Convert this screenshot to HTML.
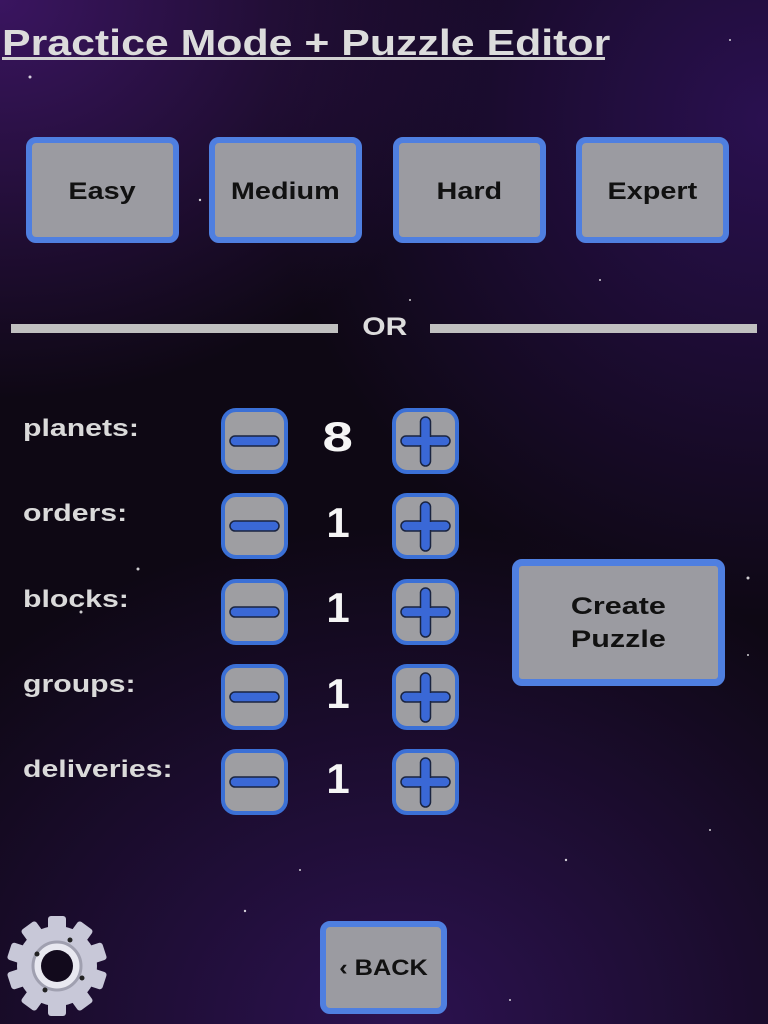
<!DOCTYPE html>
<html><head><meta charset="utf-8"><style>
*{margin:0;padding:0;box-sizing:border-box}
body{width:768px;height:1024px;overflow:hidden;position:relative;font-family:"Liberation Sans",sans-serif;
background:radial-gradient(ellipse 500px 400px at 0px 0px,#3a1560 0%,rgba(30,10,50,0) 100%),radial-gradient(ellipse 500px 500px at 768px 120px,#2a1050 0%,rgba(30,10,50,0) 100%),radial-gradient(ellipse 600px 500px at 400px 1024px,#2c1250 0%,rgba(30,10,50,0) 100%),#0e0814;}
.a{position:absolute}
.s{display:inline-block;transform:scaleX(1.25)}
.title{left:2px;top:22px;font-size:36px;font-weight:bold;color:#dcdcdc;white-space:nowrap;transform-origin:0 0;transform:scaleX(1.19)}
.ul{left:2px;top:57px;width:603px;height:3px;background:#d0d0d0}
.btn{position:absolute;background:#9b9ba1;border:6px solid #4f7fe0;border-radius:10px;display:flex;align-items:center;justify-content:center;font-weight:bold;color:#111;text-align:center}
.d{top:137px;width:153px;height:106px;font-size:24px;padding-top:3px}
.bar{top:324px;height:9px;background:#c0c0c0}
.or{left:360px;top:313px;width:50px;text-align:center;font-size:25px;font-weight:bold;color:#ddd}
.lab{left:23px;font-size:24px;font-weight:bold;color:#dadada;transform-origin:0 0;transform:scaleX(1.26);white-space:nowrap}
.num{left:308px;width:60px;text-align:center;font-size:42px;font-weight:bold;color:#f5f5f5}
</style></head><body>
<div class="a title">Practice Mode + Puzzle Editor</div>
<div class="a ul"></div>
<div class="btn d" style="left:26px"><span class="s" style="transform:scaleX(1.2)">Easy</span></div>
<div class="btn d" style="left:209px"><span class="s" style="transform:scaleX(1.2)">Medium</span></div>
<div class="btn d" style="left:393px"><span class="s" style="transform:scaleX(1.2)">Hard</span></div>
<div class="btn d" style="left:576px"><span class="s" style="transform:scaleX(1.2)">Expert</span></div>
<div class="a bar" style="left:11px;width:327px"></div>
<div class="a bar" style="left:430px;width:327px"></div>
<div class="a or"><span class="s" style="transform:scaleX(1.2)">OR</span></div>

<div class="a lab" style="top:415px">planets:</div>
<div class="a lab" style="top:500px">orders:</div>
<div class="a lab" style="top:586px">blocks:</div>
<div class="a lab" style="top:671px">groups:</div>
<div class="a lab" style="top:756px">deliveries:</div>

<svg class="a" style="left:0;top:0" width="768" height="1024">
<defs>
<g id="m"><rect x="0" y="0" width="63" height="62" rx="13" fill="#9e9ea2" stroke="#3b70d6" stroke-width="4"/><rect x="7" y="26" width="49" height="10" rx="5" fill="#3a68d6" stroke="#1a2440" stroke-width="1.5"/></g>
<g id="p"><rect x="0" y="0" width="63" height="62" rx="13" fill="#9e9ea2" stroke="#3b70d6" stroke-width="4"/><rect x="7" y="26" width="49" height="10" rx="5" fill="#3a68d6" stroke="#1a2440" stroke-width="1.5"/><rect x="26.5" y="7" width="10" height="49" rx="5" fill="#3a68d6" stroke="#1a2440" stroke-width="1.5"/><rect x="8" y="27" width="47" height="8" rx="4" fill="#3a68d6"/></g>
</defs>
<use href="#m" x="223" y="410"/><use href="#p" x="394" y="410"/>
<use href="#m" x="223" y="495"/><use href="#p" x="394" y="495"/>
<use href="#m" x="223" y="581"/><use href="#p" x="394" y="581"/>
<use href="#m" x="223" y="666"/><use href="#p" x="394" y="666"/>
<use href="#m" x="223" y="751"/><use href="#p" x="394" y="751"/>
<g transform="translate(57,966)">
<g fill="#c8c8d8">
<circle r="40"/>
<rect x="-9" y="-50" width="18" height="100" rx="3"/>
<rect x="-9" y="-50" width="18" height="100" rx="3" transform="rotate(36)"/>
<rect x="-9" y="-50" width="18" height="100" rx="3" transform="rotate(72)"/>
<rect x="-9" y="-50" width="18" height="100" rx="3" transform="rotate(108)"/>
<rect x="-9" y="-50" width="18" height="100" rx="3" transform="rotate(144)"/>
</g>
<circle r="24" fill="#e8e8f0" stroke="#a0a0b0" stroke-width="3"/>
<circle r="16" fill="#120a1c"/>
<circle cx="-20" cy="-12" r="2.5" fill="#222"/><circle cx="13" cy="-26" r="2.5" fill="#222"/><circle cx="25" cy="12" r="2.5" fill="#222"/><circle cx="-12" cy="24" r="2.5" fill="#222"/>
</g>
<g fill="#fff" opacity="0.8">
<circle cx="30" cy="77" r="1.5"/><circle cx="200" cy="200" r="1.2"/><circle cx="410" cy="300" r="1"/><circle cx="138" cy="569" r="1.5"/><circle cx="81" cy="612" r="1.5"/><circle cx="748" cy="578" r="1.5"/><circle cx="566" cy="860" r="1.2"/><circle cx="710" cy="830" r="1"/><circle cx="245" cy="911" r="1.2"/><circle cx="510" cy="1000" r="1"/><circle cx="730" cy="40" r="1"/><circle cx="600" cy="280" r="1"/><circle cx="300" cy="870" r="1"/><circle cx="748" cy="655" r="1"/>
</g>
</svg>
<div class="a num" style="top:413px"><span class="s" style="transform:scaleX(1.3)">8</span></div>
<div class="a num" style="top:499px">1</div>
<div class="a num" style="top:584px">1</div>
<div class="a num" style="top:670px">1</div>
<div class="a num" style="top:755px">1</div>
<div class="btn" style="left:512px;top:559px;width:213px;height:127px;font-size:24px;line-height:33px;border-width:7px"><span class="s" style="transform:scaleX(1.27)">Create<br>Puzzle</span></div>
<div class="btn" style="left:320px;top:921px;width:127px;height:93px;font-size:22px"><span class="s" style="transform:scaleX(1.15)">‹ BACK</span></div>
</body></html>
